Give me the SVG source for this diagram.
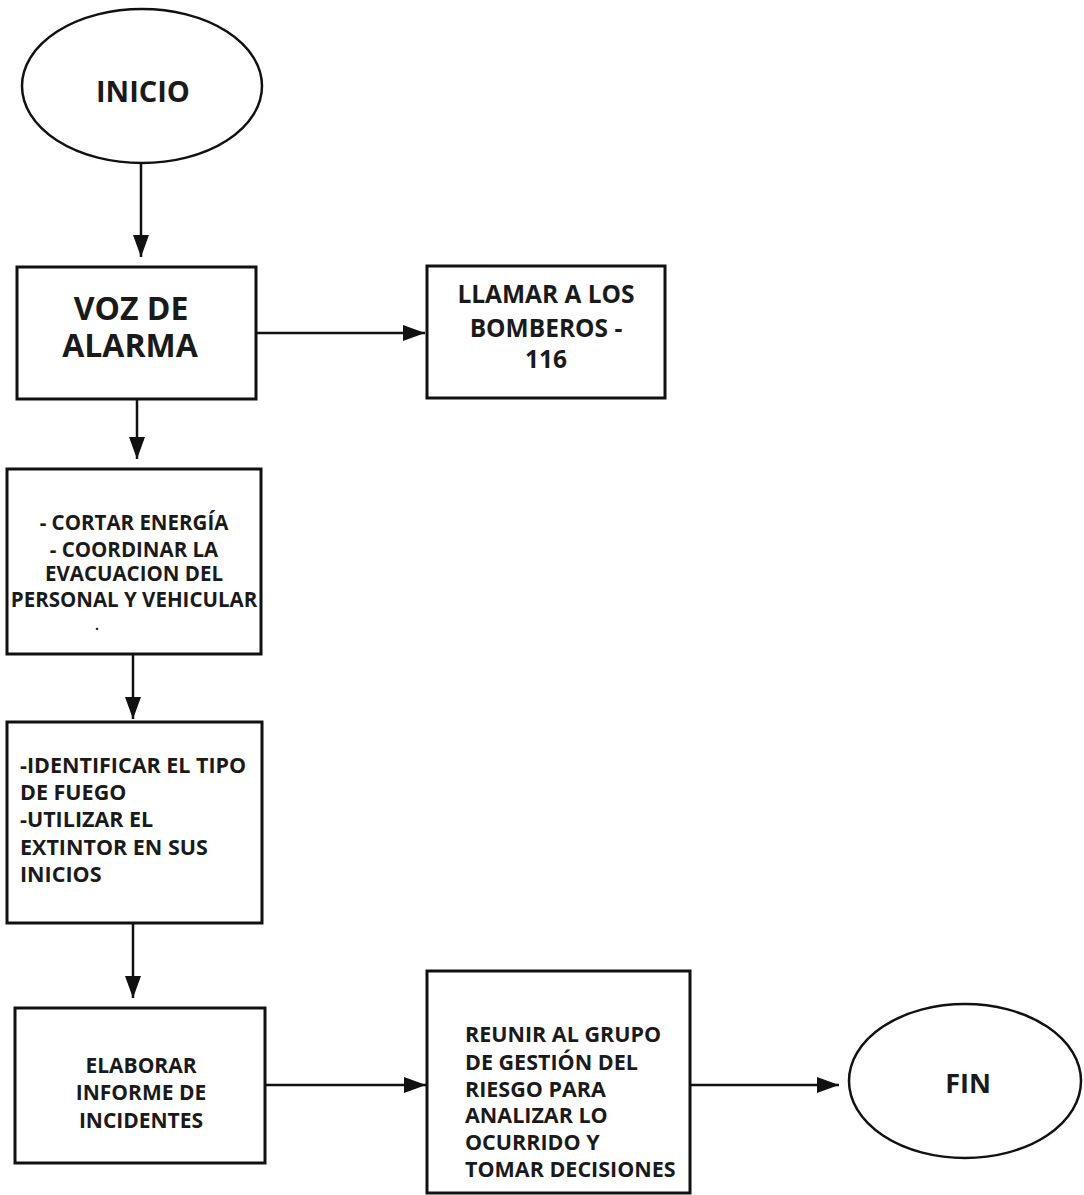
<svg xmlns="http://www.w3.org/2000/svg" width="1084" height="1195" viewBox="0 0 1084 1195">
<defs>
<marker id="ah" markerUnits="userSpaceOnUse" markerWidth="24" markerHeight="16" refX="22" refY="8" orient="auto">
<path d="M0,0 L22,8 L0,16 Z" fill="#111"/>
</marker>
<style>
.box{fill:#fff;stroke:#111;stroke-width:3}
.ell{fill:#fff;stroke:#111;stroke-width:2.5}
.con{stroke:#111;stroke-width:2.5;fill:none;marker-end:url(#ah)}
text{font-family:"Open Sans","Noto Sans","DejaVu Sans",sans-serif;font-weight:700;fill:#1a1a1a}
.c{text-anchor:middle}
</style>
</defs>
<rect width="1084" height="1195" fill="#fff"/>
<g id="connectors">
<line class="con" x1="141" y1="163" x2="141" y2="257"/>
<line class="con" x1="256" y1="333" x2="425" y2="333"/>
<line class="con" x1="137" y1="399" x2="137" y2="459"/>
<line class="con" x1="133" y1="654" x2="133" y2="719"/>
<line class="con" x1="133" y1="923" x2="133" y2="998"/>
<line class="con" x1="265" y1="1085" x2="426" y2="1085"/>
<line class="con" x1="690" y1="1085" x2="839" y2="1085"/>
</g>
<g id="inicio">
<ellipse class="ell" cx="142" cy="86" rx="120" ry="77"/>
<text class="c" x="143" y="102" font-size="29">INICIO</text>
</g>
<g id="voz">
<rect class="box" x="17" y="267" width="239" height="132"/>
<text class="c" x="131" y="320" font-size="32">VOZ DE</text>
<text class="c" x="130" y="357" font-size="32">ALARMA</text>
</g>
<g id="llamar">
<rect class="box" x="427" y="266" width="238" height="132"/>
<text class="c" x="546" y="303" font-size="24.5">LLAMAR A LOS</text>
<text class="c" x="546" y="337" font-size="24.5">BOMBEROS -</text>
<text class="c" x="546" y="368" font-size="24.5">116</text>
</g>
<g id="cortar">
<rect class="box" x="7" y="469" width="254" height="185"/>
<text class="c" x="134" y="530" font-size="20.5">- CORTAR ENERGÍA</text>
<text class="c" x="134" y="557" font-size="20.5">- COORDINAR LA</text>
<text class="c" x="134" y="581" font-size="20.5">EVACUACION DEL</text>
<text class="c" x="134" y="607" font-size="20.5">PERSONAL Y VEHICULAR</text>
<text class="c" x="97" y="630" font-size="14">.</text>
</g>
<g id="identificar">
<rect class="box" x="7" y="722" width="255" height="201"/>
<text x="20" y="773" font-size="21.5">-IDENTIFICAR EL TIPO</text>
<text x="20" y="800" font-size="21.5">DE FUEGO</text>
<text x="20" y="827" font-size="21.5">-UTILIZAR EL</text>
<text x="20" y="855" font-size="21.5">EXTINTOR EN SUS</text>
<text x="20" y="882" font-size="21.5">INICIOS</text>
</g>
<g id="elaborar">
<rect class="box" x="15" y="1008" width="250" height="155"/>
<text class="c" x="141" y="1073" font-size="21">ELABORAR</text>
<text class="c" x="141" y="1100" font-size="21">INFORME DE</text>
<text class="c" x="141" y="1128" font-size="21">INCIDENTES</text>
</g>
<g id="reunir">
<rect class="box" x="427" y="971" width="263" height="222"/>
<text x="465" y="1042" font-size="21.5">REUNIR AL GRUPO</text>
<text x="465" y="1070" font-size="21.5">DE GESTIÓN DEL</text>
<text x="465" y="1097" font-size="21.5">RIESGO PARA</text>
<text x="465" y="1123" font-size="21.5">ANALIZAR LO</text>
<text x="465" y="1150" font-size="21.5">OCURRIDO Y</text>
<text x="465" y="1177" font-size="21.5">TOMAR DECISIONES</text>
</g>
<g id="fin">
<ellipse class="ell" cx="965" cy="1081" rx="116" ry="77"/>
<text class="c" x="968" y="1093" font-size="27">FIN</text>
</g>
</svg>
